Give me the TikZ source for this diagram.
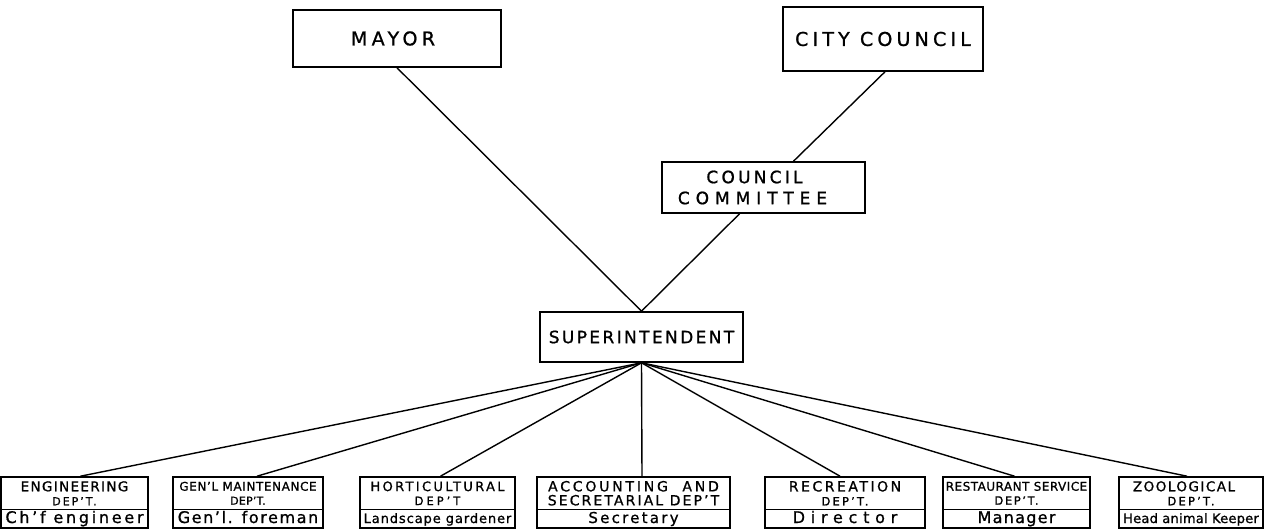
\documentclass[tikz,border=0pt]{standalone}
\usepackage{fontspec}
\setmainfont{DejaVu Sans}
\usetikzlibrary{calc}
% size, tracking, text
\newcommand\ltr[3]{{\fontsize{#1}{#1}\selectfont\addfontfeature{LetterSpace=#2,FakeBold=1}#3}}
\tikzset{
  box/.style={draw, line width=1.6pt, inner sep=0pt},
  head/.style={box, align=center, minimum height=32.5, font=\fontsize{12}{14}\selectfont},
  post/.style={box, minimum height=18.5, text height=12pt, text depth=3.5pt},
  link/.style={line width=1.4pt}
}
\begin{document}
\begin{tikzpicture}[x=1pt,y=-1pt]
\useasboundingbox (0,0) rectangle (1264,529);

% upper offices
\node[box, minimum width=208, minimum height=57] (mayor) at (397,38.5)
  {\raisebox{-3pt}{\ltr{19}{23}{MAYOR}}\hspace*{8pt}};
\node[box, minimum width=200, minimum height=64] (council) at (883,39)
  {\raisebox{-6pt}{\ltr{19}{22}{CITY COUNCIL}}};
\node[box, align=center, minimum width=203, minimum height=51,
      font=\fontsize{17}{21}\selectfont] (comm) at (763.5,187.5)
  {\ltr{17}{19}{COUNCIL}\hspace*{18pt}\\\ltr{17}{35}{COMMITTEE}\hspace*{22pt}};
\node[box, minimum width=203, minimum height=50] (sup) at (641.5,337)
  {\ltr{17}{14}{SUPERINTENDENT}};

% departments
\node[head, minimum width=147] (eng) at (74.5,493.25)
  {\ltr{13.5}{10}{ENGINEERING}\\\ltr{11}{18}{DEP'T.}};
\node[post, minimum width=147] (engP) at (74.5,518.75) {\ltr{16}{17}{Ch'f engineer}};

\node[head, minimum width=150] (mnt) at (248,493.25)
  {\ltr{12}{5}{GEN'L MAINTENANCE}\\\ltr{11}{2}{DEP'T.}};
\node[post, minimum width=150] (mntP) at (248,518.75) {\ltr{16}{10}{Gen'l. foreman}};

\node[head, minimum width=155] (hort) at (437.5,493.25)
  {\ltr{13}{18}{HORTICULTURAL}\\\ltr{11.5}{26}{DEP'T}};
\node[post, minimum width=155] (hortP) at (437.5,518.75) {\ltr{13}{7}{Landscape gardener}};

\node[head, minimum width=193] (acct) at (633.5,493.25)
  {\ltr{14}{20}{ACCOUNTING\ \ AND}\\\ltr{14}{15}{SECRETARIAL DEP'T}};
\node[post, minimum width=193] (acctP) at (633.5,518.75) {\ltr{15}{15}{Secretary}};

\node[head, minimum width=160] (rec) at (845,493.25)
  {\ltr{14}{18}{RECREATION}\\\ltr{11.5}{19}{DEP'T.}};
\node[post, minimum width=160] (recP) at (845,518.75) {\ltr{16}{36}{Director}};

\node[head, minimum width=147] (rest) at (1016.5,493.25)
  {\ltr{12}{4}{RESTAURANT SERVICE}\\\ltr{11.5}{14}{DEP'T.}};
\node[post, minimum width=147] (restP) at (1016.5,518.75) {\ltr{16}{8}{Manager}};

\node[head, minimum width=144] (zoo) at (1191,493.25)
  {\ltr{13.5}{11}{ZOOLOGICAL}\hspace*{14pt}\\\ltr{11.5}{19}{DEP'T.}};
\node[post, minimum width=144] (zooP) at (1191,518.75) {\ltr{13}{2}{Head animal Keeper}};

% lines of authority
\draw[link] (mayor.south) -- (sup.north);
\draw[link] ($(council.south)+(2,0)$) -- ($(comm.north)+(30,0)$);
\draw[link] ($(comm.south)+(-24,0)$) -- (sup.north);
\foreach \d/\o in {eng/6,mnt/9,hort/3,acct/8.5,rec/-5,rest/-2,zoo/-4}
  \draw[link] (sup.south) -- ($(\d.north)+(\o,0)$);
\end{tikzpicture}
\end{document}
